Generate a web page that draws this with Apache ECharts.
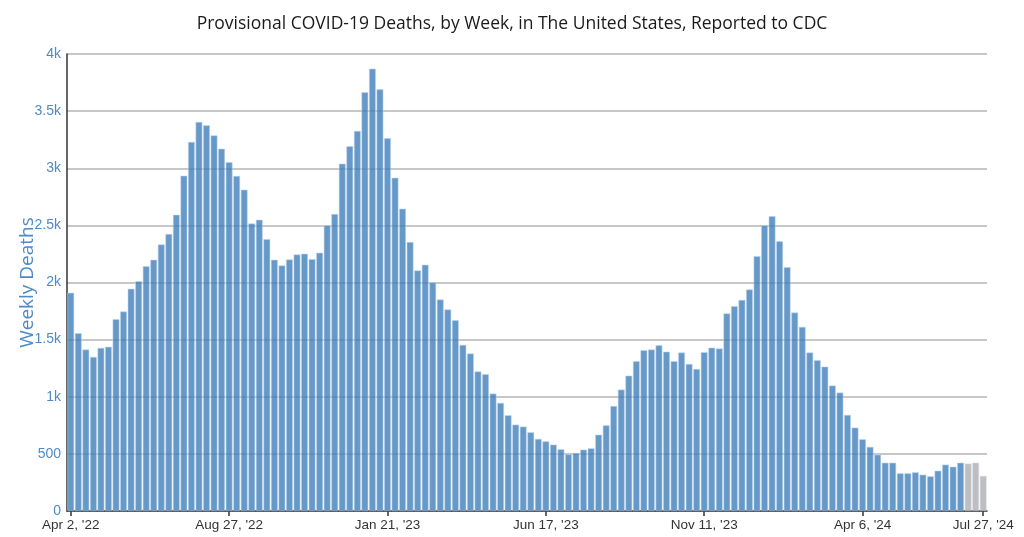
<!DOCTYPE html>
<html>
<head>
<meta charset="utf-8">
<script src="https://cdn.jsdelivr.net/npm/echarts@6/dist/echarts.min.js"></script>
<style>
html,body{margin:0;padding:0;background:#fff;}
#chart{width:1024px;height:537px;}
</style>
</head>
<body>
<div id="chart"></div>
<script>
// Weekly deaths, weeks ending Apr 2, 2022 ... Jul 27, 2024
const startDate = Date.UTC(2022, 3, 2);
const weekCount = 122;

// Reported weeks (blue)
const completeDeaths = [
  1910,1556,1413,1349,1428,1437,1679,1746,1945,2012,
  2143,2199,2333,2424,2593,2935,3230,3405,3376,3288,
  3171,3054,2932,2812,2517,2549,2380,2199,2149,2202,
  2245,2251,2205,2260,2500,2599,3040,3192,3326,3665,
  3872,3691,3262,2917,2646,2354,2105,2155,2000,1851,
  1764,1670,1454,1378,1221,1197,1028,946,838,756,
  739,689,631,610,581,540,496,508,537,549,
  668,750,919,1063,1185,1311,1407,1413,1451,1395,
  1311,1387,1287,1243,1390,1430,1422,1730,1793,1848,
  1939,2231,2500,2581,2362,2135,1737,1612,1387,1320,
  1264,1098,1037,841,730,628,561,493,423,423,
  330,330,339,318,304,353,406,388,423
];
// Most recent weeks, data incomplete (grey)
const incompleteDeaths = [415,423,307];

const tickLabels = ["Apr 2, '22","Aug 27, '22","Jan 21, '23","Jun 17, '23","Nov 11, '23","Apr 6, '24","Jul 27, '24"];

const monthNames = ['Jan','Feb','Mar','Apr','May','Jun','Jul','Aug','Sep','Oct','Nov','Dec'];
const categories = [];
for (let i = 0; i < weekCount; i++) {
  const d = new Date(startDate + i * 7 * 86400000);
  categories.push(monthNames[d.getUTCMonth()] + ' ' + d.getUTCDate() + ", '" + String(d.getUTCFullYear()).slice(2));
}

const blueData = completeDeaths.concat(incompleteDeaths.map(() => null));
const greyData = completeDeaths.map(() => null).concat(incompleteDeaths);

const showTick = (idx, val) => tickLabels.indexOf(categories[idx]) >= 0;

const chart = echarts.init(document.getElementById('chart'), null, {renderer: 'canvas'});
chart.setOption({
  animation: false,
  backgroundColor: '#ffffff',
  title: {
    text: 'Provisional COVID-19 Deaths, by Week, in The United States, Reported to CDC',
    left: 'center',
    top: 10,
    textStyle: {fontFamily: 'Open Sans', fontSize: 17.5, fontWeight: 'normal', color: '#1a1a1a'}
  },
  grid: {left: 67, right: 37, top: 54, bottom: 26, containLabel: false},
  xAxis: {
    type: 'category',
    data: categories,
    boundaryGap: true,
    axisLine: {show: true, lineStyle: {color: '#333', width: 1.5}},
    axisTick: {show: true, alignWithLabel: true, interval: showTick, length: 5, lineStyle: {color: '#333', width: 1.5}},
    axisLabel: {
      interval: showTick,
      color: '#333',
      fontFamily: 'Liberation Sans',
      fontSize: 13.5,
      margin: 7,
      showMaxLabel: true
    },
    splitLine: {show: false}
  },
  yAxis: {
    type: 'value',
    min: 0,
    max: 4000,
    interval: 500,
    name: 'Weekly Deaths',
    nameLocation: 'middle',
    nameGap: 30,
    nameMoveOverlap: false,
    nameTextStyle: {fontFamily: 'Open Sans', fontSize: 19, color: '#4f8ac6'},
    axisLine: {show: true, lineStyle: {color: '#333', width: 1.5}},
    axisTick: {show: false},
    axisLabel: {
      color: '#4f8ac6',
      fontFamily: 'Liberation Sans',
      fontSize: 14,
      margin: 6,
      formatter: v => v >= 1000 ? (v / 1000) + 'k' : String(v)
    },
    splitLine: {show: true, lineStyle: {color: '#b4b4b4', width: 1.5}}
  },
  series: [
    {
      name: 'Reported',
      type: 'bar',
      stack: 'deaths',
      data: blueData,
      barCategoryGap: '10%',
      itemStyle: {color: 'rgba(60,124,184,0.78)', borderColor: 'rgba(190,214,238,0.9)', borderWidth: 0.6}
    },
    {
      name: 'Incomplete',
      type: 'bar',
      stack: 'deaths',
      data: greyData,
      barCategoryGap: '10%',
      itemStyle: {color: 'rgba(160,162,168,0.7)', borderColor: 'rgba(220,222,226,0.9)', borderWidth: 0.6}
    }
  ]
});
</script>
</body>
</html>
